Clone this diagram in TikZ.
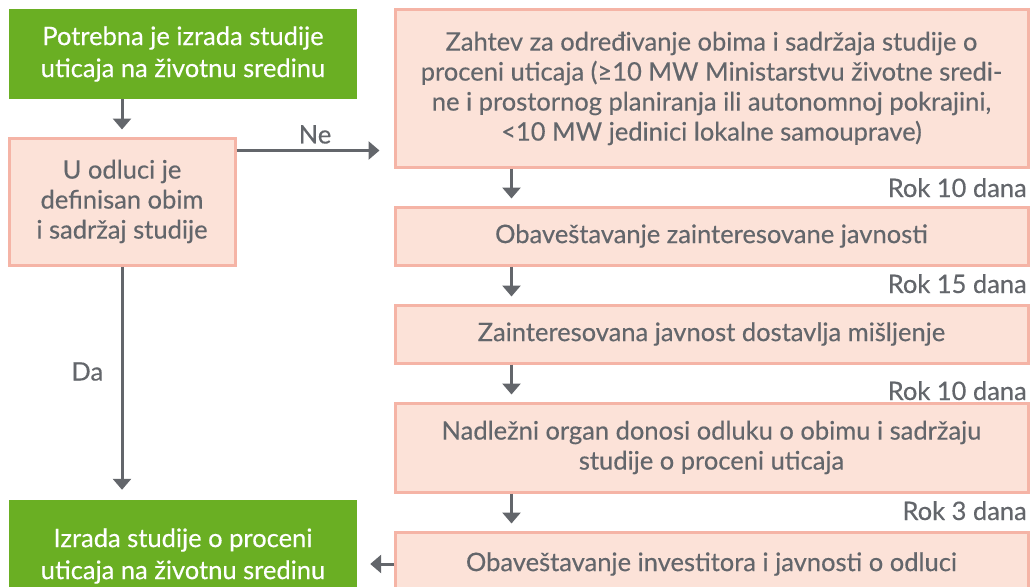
\documentclass[tikz,border=0pt]{standalone}
\usepackage{fontspec}
\setmainfont{Lato}[FakeBold=0.35]
\usetikzlibrary{arrows.meta}
\definecolor{zelena}{RGB}{106,175,35}
\definecolor{roza}{RGB}{252,226,216}
\definecolor{rozaivica}{RGB}{245,180,166}
\definecolor{siva}{RGB}{99,102,107}

\begin{document}
\begin{tikzpicture}[x=1pt, y=-1pt, >={Triangle[width=18pt,length=11pt]},
    zeleni/.style={fill=zelena, text=white, inner sep=0pt, align=center,
        font=\fontsize{25.5}{32}\selectfont},
    rozi/.style={fill=roza, draw=rozaivica, line width=3pt, text=siva,
        inner sep=0pt, align=center, font=\fontsize{25.5}{30}\selectfont},
    strelica/.style={->, draw=siva, line width=3pt, shorten >=7pt},
    rok/.style={text=siva, anchor=base east, inner sep=0pt,
        font=\fontsize{25.5}{30}\selectfont}]
    \useasboundingbox (0,0) rectangle (1032,586);
    \clip (0,0) rectangle (1032,586);
    % levo
    \node[zeleni, minimum width=348pt, minimum height=90pt] (g1) at (183,54)
        {Potrebna je izrada studije\\uticaja na životnu sredinu};
    \node[rozi, minimum width=226pt, minimum height=127pt] (p1) at (122,201.5)
        {U odluci je\\definisan obim\\i sadržaj studije};
    \node[zeleni, minimum width=348pt, minimum height=112pt] (g2) at (183,556)
        {Izrada studije o proceni\\uticaja na životnu sredinu};
    % desno
    \node[rozi, minimum width=633pt, minimum height=157pt] (b1) at (711.5,88.5)
        {Zahtev za određivanje obima i sadržaja studije o\\proceni uticaja (≥10 MW Ministarstvu životne sredi-\\ne i prostornog planiranja ili autonomnoj pokrajini,\\<10 MW jedinici lokalne samouprave)};
    \node[rozi, minimum width=633pt, minimum height=58pt] (b2) at (711.5,236)
        {Obaveštavanje zainteresovane javnosti};
    \node[rozi, minimum width=633pt, minimum height=58pt] (b3) at (711.5,334)
        {Zainteresovana javnost dostavlja mišljenje};
    \node[rozi, minimum width=633pt, minimum height=89pt] (b4) at (711.5,447.5)
        {Nadležni organ donosi odluku o obimu i sadržaju\\studije o proceni uticaja};
    \node[rozi, minimum width=633pt, minimum height=64pt] (b5) at (711.5,564)
        {Obaveštavanje investitora i javnosti o odluci};
    \node[rok] (r1) at (1027,197) {Rok 10 dana};
    \node[rok] (r2) at (1027,293) {Rok 15 dana};
    \node[rok] (r3) at (1027,400) {Rok 10 dana};
    \node[rok] (r4) at (1027,520) {Rok 3 dana};
    % strelice
    \draw[strelica] (g1.south -| p1) -- (p1);
    \draw[strelica, shorten >=10pt] (p1.south) -- (p1.south |- g2.north)
        node[pos=0.45, left=14pt, text=siva, font=\fontsize{25.5}{30}\selectfont] (da) {Da};
    \draw[strelica, shorten >=14pt] ([yshift=-14pt]p1.north east) -- ([yshift=-14pt]p1.north east -| b1.west)
        node[pos=0.5, above=2pt, text=siva, font=\fontsize{25.5}{30}\selectfont] (ne) {Ne};
    \foreach \a/\b in {b1/b2, b2/b3, b3/b4, b4/b5}
        \draw[strelica] ([xshift=118pt]\a.south west) -- ([xshift=118pt]\b.north west);
    \draw[strelica, shorten >=13pt] (b5.west) -- (b5.west -| g2.east);
\end{tikzpicture}
\end{document}
